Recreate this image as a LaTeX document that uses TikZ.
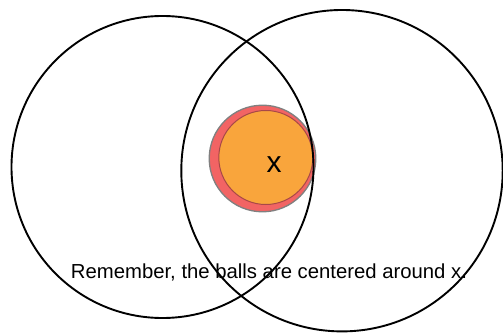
\documentclass[tikz,border=0pt]{standalone}
\usepackage{fontspec}
\setmainfont{Liberation Sans}
\definecolor{ballred}{HTML}{F26464}
\definecolor{ballorange}{HTML}{F9A53C}
\definecolor{ballrim}{HTML}{A84848}
\begin{document}
\begin{tikzpicture}[x=1pt,y=1pt,
  bigball/.style={draw=black,line width=1.9pt},
  txt/.style={inner sep=0pt,font=\fontsize{20.3}{24}\selectfont}]
\useasboundingbox (0,0) rectangle (503,335);
\fill[ballred,draw=gray,line width=1.3pt] (262.5,176.5) circle (53.3);
\fill[ballorange,draw=ballrim,line width=1pt] (265.8,177.5) circle (47);
\draw[bigball] (162.5,168) circle (151);
\draw[bigball] (342,164.3) circle (160.7);
\node[txt,font=\fontsize{30}{34}\selectfont] (x) at (274,170) {x};
\node[txt,anchor=base] (note) at (269,57) {Remember, the balls are centered around x.};
\end{tikzpicture}
\end{document}
